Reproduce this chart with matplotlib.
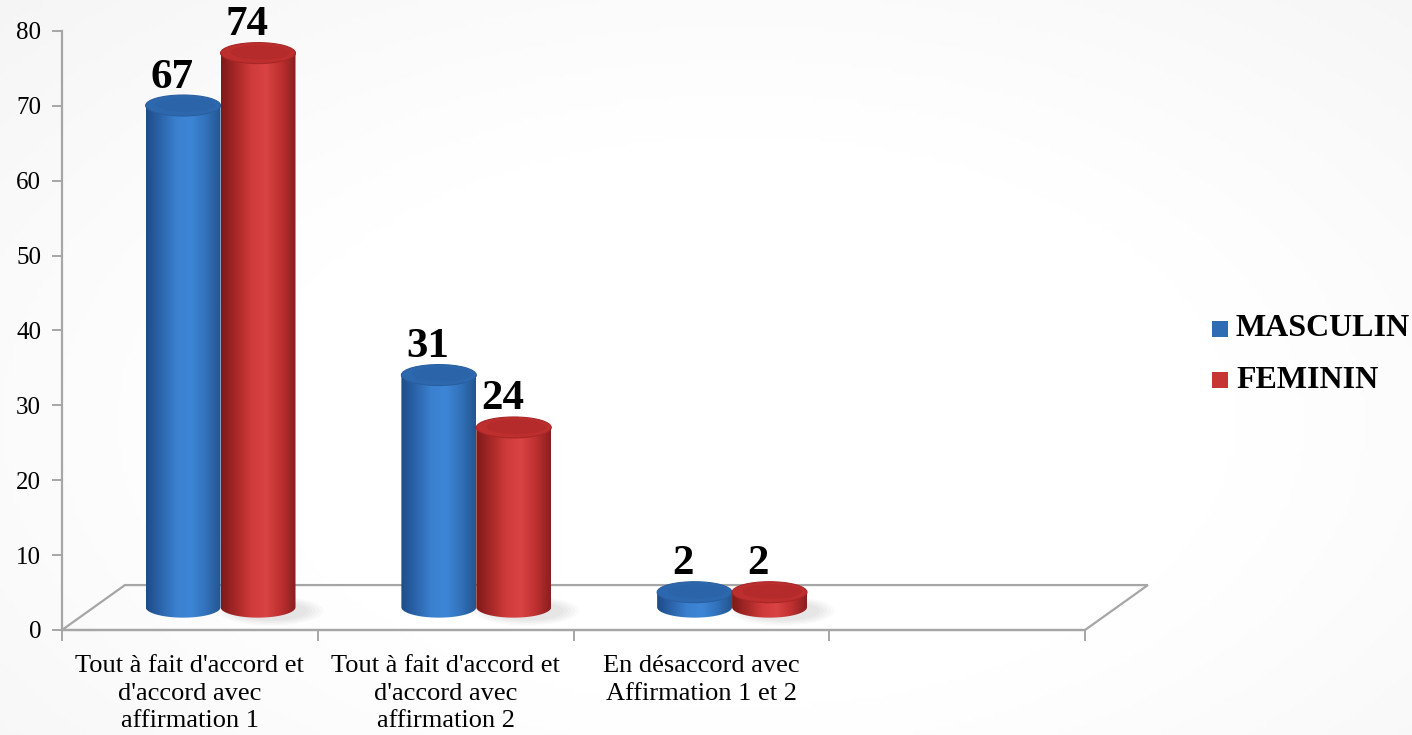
import numpy as np
import matplotlib
matplotlib.use("Agg")
import matplotlib.pyplot as plt
from matplotlib.path import Path
from matplotlib.patches import PathPatch, Ellipse, Polygon, Rectangle
from matplotlib.colors import LinearSegmentedColormap

# data
categories = ["Tout à fait d'accord et\nd'accord avec\naffirmation 1",
              "Tout à fait d'accord et\nd'accord avec\naffirmation 2",
              "En désaccord avec\nAffirmation 1 et 2",
              ""]
masculin = [67, 31, 2]
feminin = [74, 24, 2]
series_names = ["MASCULIN", "FEMININ"]
yticks = [0, 10, 20, 30, 40, 50, 60, 70, 80]

plt.rcParams['font.family'] = ['Liberation Serif', 'DejaVu Serif']

W, H = 1412, 735
fig = plt.figure(figsize=(W / 100, H / 100), dpi=100)

# very faint background, white centre fading to light grey at the corners
bg = fig.add_axes([0, 0, 1, 1], zorder=-10)
gx, gy = np.meshgrid(np.linspace(-1, 1, 300), np.linspace(-1, 1, 160))
r = np.sqrt((gx - 0.05) ** 2 + (gy + 0.15) ** 2 * 0.8)
shade = 1 - 0.05 * np.clip(r - 0.7, 0, None) ** 1.1
bg.imshow(np.dstack([shade, shade, shade]), extent=[0, 1, 0, 1], aspect='auto',
          origin='lower')
bg.axis('off')

ax = fig.add_axes([62 / W, 105 / H, 1023 / W, 599 / H])
ax.patch.set_alpha(0)

grey = '#A6A6A6'
dx, dy = 0.246, 6.0          # depth offset of the floor back edge
base = 3.05                  # base ellipse centre (middle of depth)
shift = 0.12                 # x shift of bars (middle depth)
bw = 0.293                   # bar width
eh = 2.8                     # ellipse height in data units

# floor
floor = Polygon([[0, 0], [4, 0], [4 + dx, dy], [dx, dy]], closed=True,
                facecolor='none', edgecolor=grey, lw=1.6, clip_on=False, zorder=1)
ax.add_patch(floor)

blue_cmap = LinearSegmentedColormap.from_list(
    'b', ['#1E4C86', '#2C65AC', '#3A80CF', '#3D86D6', '#3272BC', '#24558F'])
red_cmap = LinearSegmentedColormap.from_list(
    'r', ['#7E1A1A', '#A82828', '#CF3A3A', '#D94343', '#BE3030', '#8A1F1F'])
tops = {'b': ('#2D68AE', '#2A5F9F'), 'r': ('#BD2E2E', '#A82626')}


def cylinder(xc, value, cmap, key, z):
    x0, x1 = xc - bw / 2, xc + bw / 2
    top = base + value
    t = np.linspace(np.pi, 2 * np.pi, 60)
    verts = [(x0, top), (x0, base)]
    verts += list(zip(xc + bw / 2 * np.cos(t), base + eh / 2 * np.sin(t)))
    verts += [(x1, top), (x0, top)]
    codes = [Path.MOVETO] + [Path.LINETO] * (len(verts) - 2) + [Path.CLOSEPOLY]
    body = PathPatch(Path(verts, codes), facecolor='none', edgecolor='none', zorder=z)
    ax.add_patch(body)
    grad = np.linspace(0, 1, 200).reshape(1, -1)
    im = ax.imshow(grad, cmap=cmap, extent=[x0, x1, base - eh / 2, top],
                   aspect='auto', zorder=z, interpolation='bilinear')
    im.set_clip_path(body)
    ax.add_patch(Ellipse((xc, top), bw, eh, facecolor=tops[key][0],
                         edgecolor=tops[key][1], lw=0.8, zorder=z + 0.1))
    ax.add_patch(Ellipse((xc + 0.01, top + 0.1), bw * 0.8, eh * 0.7,
                         facecolor=tops[key][1], edgecolor='none', alpha=0.35,
                         zorder=z + 0.2))


def shadow(xc):
    for k in range(5):
        ax.add_patch(Ellipse((xc + 0.05, base - 0.5), bw * (1.0 + 0.1 * k),
                             eh * (0.9 + 0.12 * k), facecolor='#606060',
                             edgecolor='none', alpha=0.03, zorder=1.5))


for i in range(len(masculin)):
    xb = i + 0.5 + shift - bw / 2
    xr = i + 0.5 + shift + bw / 2
    shadow(xr)
    cylinder(xb, masculin[i], blue_cmap, 'b', 2 + i)
    cylinder(xr, feminin[i], red_cmap, 'r', 2.5 + i)
    for xc, v in ((xb, masculin[i]), (xr, feminin[i])):
        ax.text(xc - 0.045, base + v + eh / 2 - 0.2, str(v), ha='center', va='bottom',
                fontsize=31, fontweight='bold', color='black', zorder=10, clip_on=False)

ax.set_xlim(0, 4)
ax.set_ylim(0, 80)

for s in ['top', 'right']:
    ax.spines[s].set_visible(False)
for s in ['left', 'bottom']:
    ax.spines[s].set_color(grey)
    ax.spines[s].set_linewidth(1.6)

ax.set_yticks(yticks)
ax.set_yticklabels([str(v) for v in yticks], fontsize=18)
ax.set_xticks([0, 1, 2, 3, 4])
ax.set_xticklabels([])
ax.tick_params(axis='y', direction='out', length=7, width=1.4, color=grey, pad=8)
ax.tick_params(axis='x', direction='out', length=8, width=1.4, color=grey)

for i, lab in enumerate(categories):
    if lab:
        ax.text(i + 0.5, -3.4, lab, ha='center', va='top', fontsize=19,
                linespacing=1.3, clip_on=False)

# legend
leg_colors = ['#2E6CB4', '#C63434']
for j, (name, c) in enumerate(zip(series_names, leg_colors)):
    yc = 1 - (329 + j * 51) / H
    fig.patches.append(Rectangle((1212 / W, yc - 8 / H), 16 / W, 16 / H,
                                 transform=fig.transFigure, facecolor=c,
                                 edgecolor='none'))
    fig.text(1236 / W, yc, name, fontsize=23, fontweight='bold', va='center', ha='left')

fig.savefig('out.png', dpi=100)
